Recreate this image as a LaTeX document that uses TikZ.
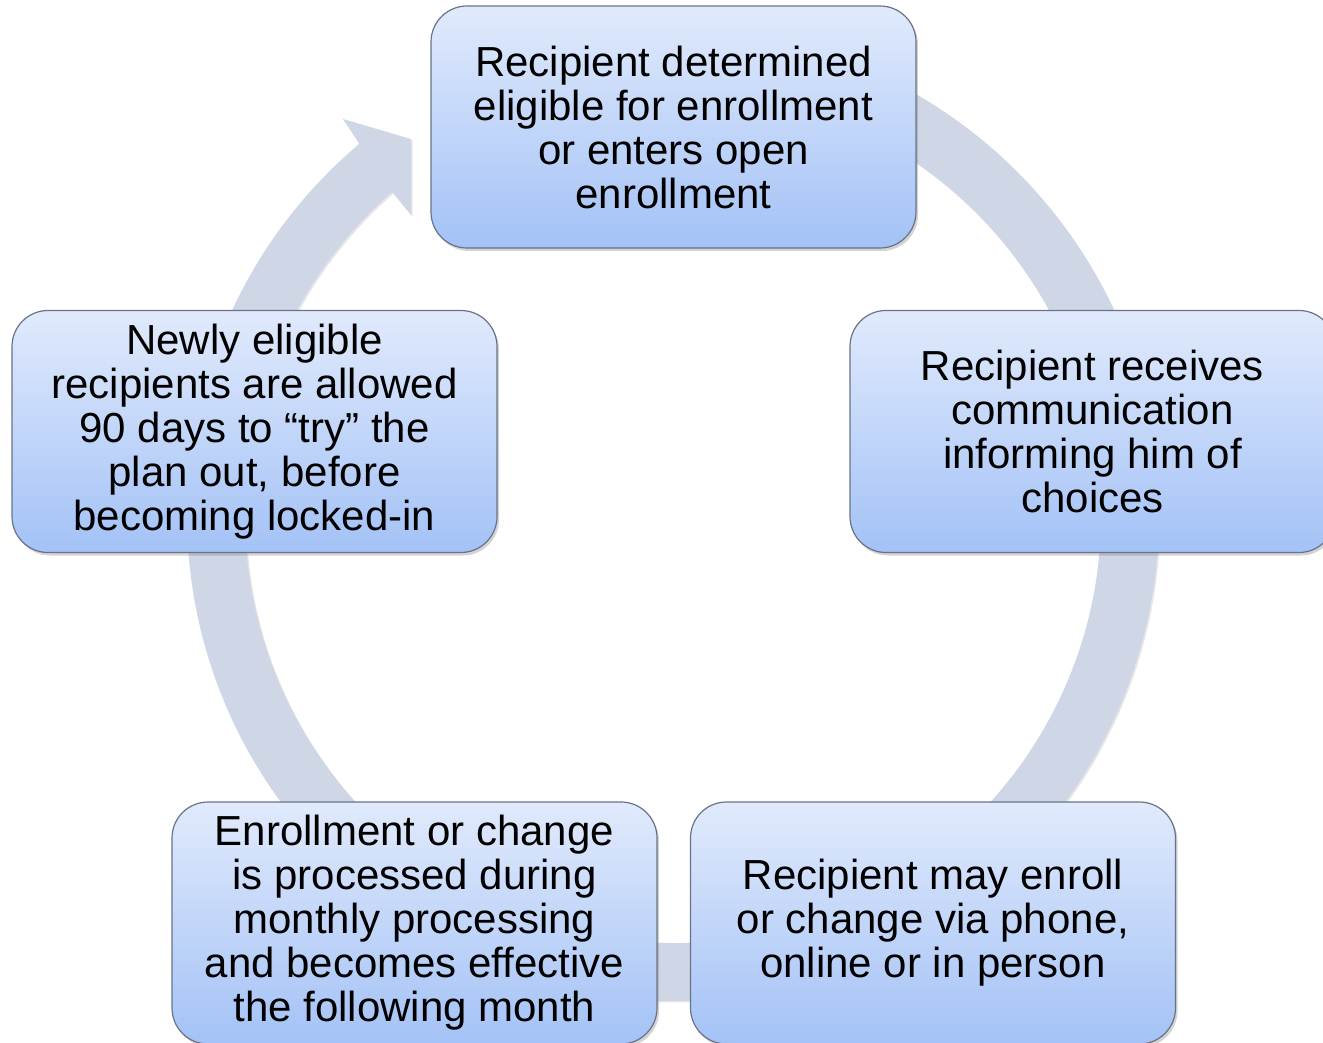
\documentclass[tikz,border=0pt]{standalone}
\usepackage{fontspec}
\setmainfont{Liberation Sans}
\usetikzlibrary{calc,shadows}
\definecolor{ringc}{RGB}{207,215,230}
\definecolor{boxtop}{RGB}{225,234,252}
\definecolor{boxbot}{RGB}{163,194,246}
\definecolor{boxline}{RGB}{105,115,135}
\tikzset{
  stepbox/.style={draw=boxline, line width=1.2pt, rounded corners=36pt,
    top color=boxtop, bottom color=boxbot,
    minimum width=485pt, minimum height=242pt, inner sep=0pt,
    align=center, font=\fontsize{42}{44}\selectfont,
    drop shadow={shadow xshift=2pt, shadow yshift=-3pt, opacity=0.35}},
  ringshape/.style={fill=ringc,
    drop shadow={shadow xshift=1.5pt, shadow yshift=-1.5pt, opacity=0.2}}
}
\begin{document}
\begin{tikzpicture}[x=1pt,y=-1pt]
\useasboundingbox (0,0) rectangle (1323,1043);
\coordinate (c) at (673,515);
% ring with arrow head
\path[ringshape] ($(c)+(-130.2:486)$) coordinate (on)
  arc[start angle=-130.2, end angle=-455, radius=486]
  -- ($(c)+(-455:428)$)
  arc[start angle=-455, end angle=-131, radius=428] coordinate (in)
  -- (411,215) coordinate (hb)
  -- (411,139) coordinate (ht)
  -- (343,119) coordinate (hb2)
  -- cycle;
% boxes
\node[stepbox] (top) at (673.5,127) {Recipient determined\\eligible for enrollment\\or enters open\\enrollment};
\node[stepbox] (right) at (1092.5,431.5) {Recipient receives\\communication\\informing him of\\choices};
\node[stepbox] (bright) at (933,923) {Recipient may enroll\\or change via phone,\\online or in person};
\node[stepbox] (bleft) at (414.5,923) {Enrollment or change\\is processed during\\monthly processing\\and becomes effective\\the following month};
\node[stepbox] (left) at (254.5,431.5) {Newly eligible\\recipients are allowed\\90 days to “try” the\\plan out, before\\becoming locked-in};
\end{tikzpicture}
\end{document}
